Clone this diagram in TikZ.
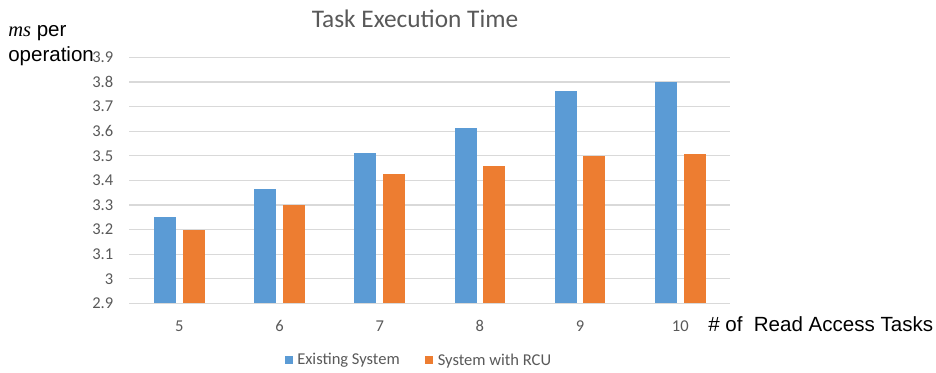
\documentclass[tikz,border=0pt]{standalone}
\usepackage{fontspec}
\setmainfont{Carlito}
\newfontfamily\arialfont{Liberation Sans}
\newfontfamily\timesfont{Liberation Serif}
\usepackage{xcolor}
\usepackage{tikz}
\usetikzlibrary{positioning}
\definecolor{existblue}{HTML}{5B9BD5}
\definecolor{rcuorange}{HTML}{ED7D31}
\definecolor{gridgray}{HTML}{D9D9D9}
\definecolor{textgray}{HTML}{595959}

\begin{document}
\begin{tikzpicture}[x=0.75pt, y=-0.75pt,
    gridline/.style={draw=gridgray, line width=0.9pt},
    ticklabel/.style={text=textgray, inner sep=0pt, font=\fontsize{12.4}{15}\selectfont},
    axistitle/.style={text=black, inner sep=0pt, anchor=base west, font=\arialfont\fontsize{15.4}{18}\selectfont},
    existbar/.style={fill=existblue, draw=none},
    rcubar/.style={fill=rcuorange, draw=none}]
    \useasboundingbox (0, 0) rectangle (936, 372);
    % gridlines and y tick labels
    \foreach \i/\v in {0/2.9, 1/3, 2/3.1, 3/3.2, 4/3.3, 5/3.4, 6/3.5, 7/3.6, 8/3.7, 9/3.8, 10/3.9} {
        \pgfmathsetmacro{\gy}{303.3 - 24.6*\i}
        \coordinate (gl\i) at (129, \gy);
        \coordinate (gr\i) at (730, \gy);
        \draw[gridline] (gl\i) -- (gr\i);
        \node[ticklabel, anchor=east] (yl\i) at (113.5, \gy) {\v};
    }
    % bars: category / existing / with RCU
    \foreach \k/\c/\b/\o in {0/5/3.25/3.2, 1/6/3.365/3.30, 2/7/3.51/3.426, 3/8/3.614/3.459, 4/9/3.763/3.50, 5/10/3.80/3.505} {
        \pgfmathsetmacro{\cx}{179.3 + 100.2*\k}
        \pgfmathsetmacro{\by}{303.3 - 246*(\b - 2.9)}
        \pgfmathsetmacro{\oy}{303.3 - 246*(\o - 2.9)}
        \fill[existbar] (\cx - 25.3, 303.3) rectangle (\cx - 3.3, \by);
        \fill[rcubar] (\cx + 3.3, 303.3) rectangle (\cx + 25.3, \oy);
        \node[ticklabel, anchor=base] (xl\k) at (\cx, 331.5) {\c};
    }
    % title and axis titles
    \node[text=textgray, inner sep=0pt, font=\fontsize{19}{23}\selectfont] (title) at (415, 18.5) {Task Execution Time};
    \node[axistitle] (ytitleA) at (8, 36.7) {{\timesfont\itshape ms} per};
    \node[axistitle] (ytitleB) at (8, 61.7) {operation};
    \node[axistitle] (xtitle) at (708, 331.7) {\# of\ \ Read Access Tasks};
    % legend
    \fill[existbar] (285, 356) rectangle (293.3, 364.3);
    \node[ticklabel, anchor=west] (legA) at (297, 360.6) {Existing System};
    \fill[rcubar] (425, 356) rectangle (432.7, 364.3);
    \node[ticklabel, anchor=west] (legB) at (437.5, 360.6) {System with RCU};
\end{tikzpicture}
\end{document}
